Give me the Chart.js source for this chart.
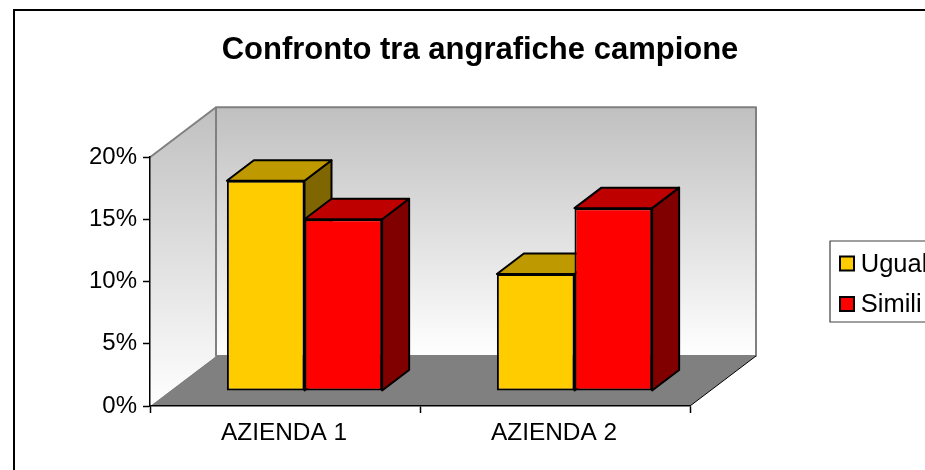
<!DOCTYPE html>
<html><head><meta charset="utf-8">
<style>html,body{margin:0;padding:0;background:#fff}canvas{display:block}</style>
<script src="https://cdn.jsdelivr.net/npm/chart.js@4"></script>
</head><body>
<div style="width:925px;height:470px"><canvas id="c" width="925" height="470"></canvas></div>
<script>
const categories = ["AZIENDA 1", "AZIENDA 2"];
const uguali = [16.9, 9.4];
const simili = [13.8, 14.7];
const yTicks = [0, 5, 10, 15, 20];
const chartTitle = "Confronto tra angrafiche campione";
const FONT = '"Liberation Sans", Arial, sans-serif';
const WALL = {dx: 66, dy: -50};
const BAR_SHIFT = {dx: 19.5, dy: -15};
const BAR_DEPTH = {dx: 27, dy: -20.5};
const TOP_SHADE = {"#ffcc00": "#bf9900", "#ff0000": "#bf0000"};
const SIDE_SHADE = {"#ffcc00": "#806600", "#ff0000": "#800000"};

function poly(ctx, pts, fill, stroke, lw) {
  ctx.beginPath();
  pts.forEach((p, i) => i ? ctx.lineTo(p[0], p[1]) : ctx.moveTo(p[0], p[1]));
  ctx.closePath();
  if (fill) { ctx.fillStyle = fill; ctx.fill(); }
  if (stroke) { ctx.strokeStyle = stroke; ctx.lineWidth = lw; ctx.lineJoin = "round"; ctx.stroke(); }
}

const scene = {
  id: "scene",
  beforeLayout(chart) {
    const lg = chart.legend;
    if (lg && !lg._wrapped) {
      const fit = lg.fit.bind(lg);
      lg.fit = function () { fit(); this.width = 235; };
      lg._wrapped = true;
    }
  },
  afterLayout(chart) {
    const t = chart.titleBlock;
    t.left = 35; t.right = 925;
    const lg = chart.legend;
    lg.left = 826; lg.right = 1060; lg.top = 104; lg.bottom = 466;
  },
  beforeDraw(chart) {
    const ctx = chart.ctx, a = chart.chartArea;
    const L = a.left, R = a.right, T = a.top, B = a.bottom;
    ctx.save();
    // outer frame
    ctx.strokeStyle = "#000"; ctx.lineWidth = 2;
    ctx.beginPath(); ctx.moveTo(14, 470); ctx.lineTo(14, 10); ctx.lineTo(925, 10); ctx.stroke();
    const grad = ctx.createLinearGradient(0, T + WALL.dy, 0, B + WALL.dy);
    grad.addColorStop(0, "#c0c0c0"); grad.addColorStop(1, "#ffffff");
    const gradL = ctx.createLinearGradient(0, T + WALL.dy, 0, B);
    gradL.addColorStop(0, "#c0c0c0"); gradL.addColorStop(1, "#ffffff");
    // floor
    poly(ctx, [[L, B], [L + WALL.dx, B + WALL.dy], [R + WALL.dx, B + WALL.dy], [R, B]], "#808080");
    // left wall
    poly(ctx, [[L, T], [L + WALL.dx, T + WALL.dy], [L + WALL.dx, B + WALL.dy], [L, B]], gradL);
    // back wall
    poly(ctx, [[L + WALL.dx, T + WALL.dy], [R + WALL.dx, T + WALL.dy], [R + WALL.dx, B + WALL.dy], [L + WALL.dx, B + WALL.dy]], grad, "#808080", 2);
    ctx.strokeStyle = "#808080"; ctx.lineWidth = 2;
    ctx.beginPath(); ctx.moveTo(L, T); ctx.lineTo(L + WALL.dx, T + WALL.dy); ctx.stroke();
    ctx.strokeStyle = "#000"; ctx.lineWidth = 1;
    ctx.beginPath(); ctx.moveTo(R, B); ctx.lineTo(R + WALL.dx, B + WALL.dy); ctx.stroke();
    // legend frame
    ctx.strokeStyle = "#404040"; ctx.lineWidth = 1.2;
    ctx.fillStyle = "#fff";
    ctx.beginPath(); ctx.rect(830, 241, 120, 81); ctx.fill(); ctx.stroke();
    ctx.restore();
  },
  beforeDatasetsDraw(chart) {
    const ctx = chart.ctx;
    ctx.save();
    ctx.translate(BAR_SHIFT.dx, BAR_SHIFT.dy);
    const d = BAR_DEPTH;
    categories.forEach((_, i) => {
      chart.data.datasets.forEach((ds, k) => {
        const el = chart.getDatasetMeta(k).data[i];
        const x0 = el.x - el.width / 2, x1 = el.x + el.width / 2, y0 = el.y, y1 = el.base;
        poly(ctx, [[x1, y0], [x1 + d.dx, y0 + d.dy], [x1 + d.dx, y1 + d.dy], [x1, y1]], SIDE_SHADE[ds.backgroundColor], "#000", 2);
        poly(ctx, [[x0, y0], [x0 + d.dx, y0 + d.dy], [x1 + d.dx, y0 + d.dy], [x1, y0]], TOP_SHADE[ds.backgroundColor], "#000", 2);
      });
    });
    // library draws the front faces inside this translation
  },
  afterDatasetsDraw(chart) { chart.ctx.restore(); },
  afterDraw(chart) {
    // widen the legend swatches without moving the legend text
    const ctx = chart.ctx;
    ctx.save();
    chart.data.datasets.forEach((ds, k) => {
      const y = 256.5 + k * 40.5;
      ctx.fillStyle = ds.backgroundColor; ctx.strokeStyle = "#000"; ctx.lineWidth = 2;
      ctx.beginPath(); ctx.rect(840, y, 14, 14); ctx.fill(); ctx.stroke();
    });
    ctx.restore();
  }
};

new Chart(document.getElementById("c"), {
  type: "bar",
  plugins: [scene],
  data: {
    labels: categories,
    datasets: [
      {label: "Uguali", data: uguali, backgroundColor: "#ffcc00", borderColor: "#000", borderWidth: 2, borderSkipped: false, clip: false},
      {label: "Simili", data: simili, backgroundColor: "#ff0000", borderColor: "#000", borderWidth: 2, borderSkipped: false, clip: false}
    ]
  },
  options: {
    responsive: false,
    animation: false,
    events: [],
    layout: {padding: {left: 0, right: 0, top: 0, bottom: 0}},
    datasets: {bar: {categoryPercentage: 0.575, barPercentage: 1}},
    plugins: {
      tooltip: {enabled: false},
      title: {
        display: true, text: chartTitle, color: "#000",
        font: {family: FONT, size: 31, weight: "bold", lineHeight: 1.2},
        padding: {top: 32, bottom: 88}
      },
      legend: {
        display: true, position: "right", align: "center",
        labels: {color: "#000", font: {family: FONT, size: 25.5}, boxWidth: 7, boxHeight: 8, padding: 15}
      }
    },
    scales: {
      x: {
        afterFit(s) { s.height = 64; },
        grid: {display: true, drawOnChartArea: false, offset: true, color: "#000", tickLength: 7, tickWidth: 1.5},
        border: {display: true, color: "#000", width: 1.5},
        ticks: {color: "#000", font: {family: FONT, size: 24.4}, padding: 6, maxRotation: 0, labelOffset: -1}
      },
      y: {
        min: 0, max: 20,
        afterFit(s) { s.width = 150; },
        afterBuildTicks(s) { s.ticks = yTicks.map(v => ({value: v})); },
        grid: {display: true, drawOnChartArea: false, color: "#000", tickLength: 7, tickWidth: 1.5},
        border: {display: true, color: "#000", width: 1.5},
        ticks: {color: "#000", font: {family: FONT, size: 24}, padding: 6, callback: v => v + "%"}
      }
    }
  }
});
</script>
</body></html>
